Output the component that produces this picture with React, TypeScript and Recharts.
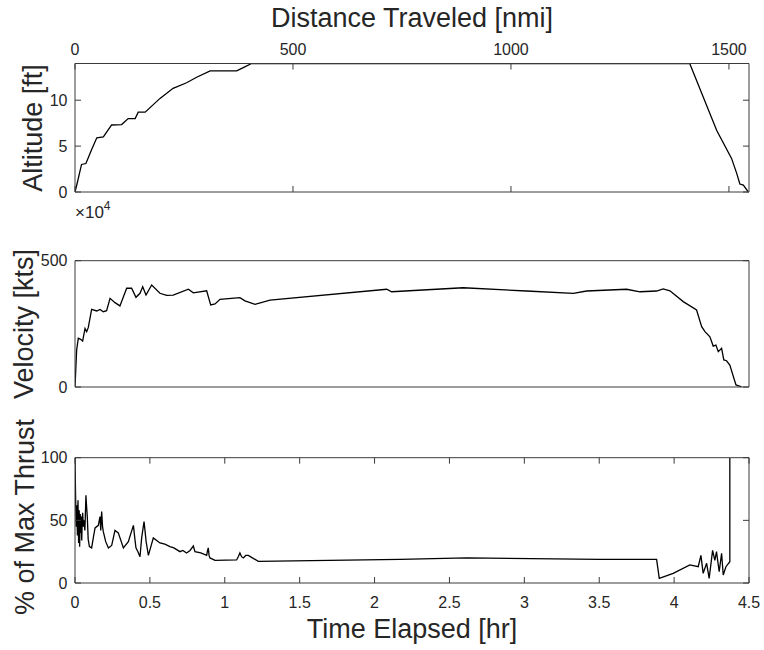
import React from 'react';
import { LineChart, Line, XAxis, YAxis } from 'recharts';

// ---------- data ----------
const distTicks = [0, 500, 1000, 1500];
const altTicks = [0, 5, 10];
const velTicks = [0, 500];
const timeTicks = [0, 0.5, 1, 1.5, 2, 2.5, 3, 3.5, 4, 4.5];
const thrustTicks = [0, 50, 100];

// Altitude (x10^4 ft) vs distance traveled (nmi)
const altDist = [0, 5, 15, 25, 38, 50, 65, 84, 107, 122, 138, 145, 161, 195, 225, 256, 279, 310, 371, 386, 405, 1410, 1472, 1506, 1518, 1525, 1533, 1544];
const altVal = [0, 0.95, 3.0, 3.1, 4.6, 5.9, 6.0, 7.3, 7.35, 8.0, 8.0, 8.7, 8.7, 10.2, 11.3, 11.9, 12.5, 13.2, 13.2, 13.55, 14, 14, 6.7, 3.66, 2.0, 0.87, 0.76, 0.03];

// Velocity (kts) vs time (hr)
const velTime = [0, 0.011, 0.022, 0.035, 0.051, 0.067, 0.078, 0.089, 0.111, 0.145, 0.167, 0.189, 0.211, 0.234, 0.267, 0.3, 0.345, 0.378, 0.407, 0.434, 0.452, 0.474, 0.512, 0.567, 0.612, 0.656, 0.757, 0.79, 0.879, 0.906, 0.935, 0.968, 1.101, 1.135, 1.202, 1.302, 2.081, 2.114, 2.592, 3.015, 3.327, 3.416, 3.683, 3.772, 3.883, 3.927, 3.972, 4.061, 4.15, 4.184, 4.206, 4.239, 4.261, 4.279, 4.295, 4.317, 4.332, 4.35, 4.372, 4.413, 4.45];
const velKts = [0, 146, 193, 190, 182, 232, 219, 236, 307, 301, 307, 298, 302, 351, 334, 321, 391, 391, 355, 371, 397, 364, 404, 371, 363, 364, 387, 373, 381, 325, 329, 347, 354, 341, 327, 344, 387, 377, 393, 380, 371, 380, 387, 377, 380, 388, 381, 338, 305, 239, 219, 199, 162, 166, 140, 153, 107, 104, 87, 8, 1];

// % of max thrust vs time (hr)
const thrustTime = [0, 0.004, 0.008, 0.012, 0.016, 0.02, 0.024, 0.028, 0.031, 0.035, 0.038, 0.042, 0.045, 0.048, 0.051, 0.056, 0.06, 0.066, 0.073, 0.078, 0.082, 0.088, 0.096, 0.111, 0.125, 0.134, 0.145, 0.156, 0.162, 0.167, 0.172, 0.178, 0.184, 0.189, 0.205, 0.223, 0.245, 0.267, 0.289, 0.323, 0.356, 0.39, 0.4, 0.407, 0.42, 0.434, 0.445, 0.461, 0.475, 0.49, 0.523, 0.567, 0.6, 0.634, 0.66, 0.701, 0.72, 0.745, 0.768, 0.79, 0.801, 0.84, 0.879, 0.885, 0.89, 0.895, 0.901, 0.935, 1.079, 1.09, 1.101, 1.112, 1.124, 1.14, 1.157, 1.179, 1.224, 2.17, 2.615, 3.505, 3.883, 3.901, 3.994, 4.105, 4.161, 4.179, 4.194, 4.217, 4.234, 4.257, 4.272, 4.283, 4.301, 4.317, 4.328, 4.346, 4.372, 4.372];
const thrustPct = [100, 69, 45, 62, 38, 66, 32, 58, 29, 55, 40, 53, 34, 48, 56, 45, 50, 42, 70, 60, 53, 35, 29, 28, 38, 44, 45, 46, 50, 53, 42, 57, 45, 41, 33, 28, 30, 42, 40, 28, 33, 46, 35, 28, 25, 21, 36, 49, 33, 22, 36, 32, 31, 29, 28, 25, 26, 24, 26, 29.5, 25, 24, 22, 26, 28, 22, 20, 18, 18.4, 21, 24, 21, 20, 22, 22, 20.5, 17.3, 18.9, 20, 18.9, 18.9, 3.7, 7.7, 14.4, 13, 22, 7.7, 15.7, 3.7, 26, 18, 25, 9, 23.7, 6.4, 13, 17, 100];

const altData = altDist.map((d, i) => ({ d, v: altVal[i] }));
const velData = velTime.map((t, i) => ({ t, v: velKts[i] }));
const thrustData = thrustTime.map((t, i) => ({ t, v: thrustPct[i] }));

// ---------- styles ----------
const FONT = '"Liberation Sans", Arial, Helvetica, sans-serif';
const FRAME = '#3a3a3a';
const TXT = '#262626';
const tickStyle = { fontSize: 16, fill: TXT, fontFamily: FONT };
const noLabel = () => '';
const W = 764;
// axis band sizes (subtracted from margins so the plot box lands at x 75..749)
const AX = 10;

function AltitudeChart() {
  return (
    <LineChart width={W} height={230} data={altData} margin={{ top: 63.5 - AX, right: 15 - AX, bottom: 38 - AX, left: 75 - AX }}>
      <XAxis xAxisId="b" dataKey="d" type="number" domain={[0, 1546]} ticks={distTicks} orientation="bottom" height={AX}
        interval={0} tickSize={-6} tickFormatter={noLabel} stroke={FRAME} allowDataOverflow />
      <XAxis xAxisId="t" dataKey="d" type="number" domain={[0, 1546]} ticks={distTicks} orientation="top" height={AX}
        interval={0} tickSize={-6} tickMargin={14.5} tick={tickStyle} stroke={FRAME} allowDataOverflow />
      <YAxis yAxisId="l" type="number" domain={[0, 14]} ticks={altTicks} orientation="left" width={AX}
        interval={0} tickSize={-6} tickMargin={13.5} tick={tickStyle} stroke={FRAME} allowDataOverflow />
      <YAxis yAxisId="r" type="number" domain={[0, 14]} ticks={altTicks} orientation="right" width={AX}
        interval={0} tickSize={-6} tickFormatter={noLabel} stroke={FRAME} allowDataOverflow />
      <Line xAxisId="b" yAxisId="l" dataKey="v" type="linear" stroke="#000" strokeWidth={1.3} dot={false} isAnimationActive={false} />
    </LineChart>
  );
}

function VelocityChart() {
  return (
    <LineChart width={W} height={190} data={velData} margin={{ top: 30.7 - AX, right: 15 - AX, bottom: 33 - AX, left: 75 - AX }}>
      <XAxis xAxisId="b" dataKey="t" type="number" domain={[0, 4.5]} ticks={[]} orientation="bottom" height={AX}
        tickLine={false} tickFormatter={noLabel} stroke={FRAME} allowDataOverflow />
      <XAxis xAxisId="t" dataKey="t" type="number" domain={[0, 4.5]} ticks={[]} orientation="top" height={AX}
        tickLine={false} tickFormatter={noLabel} stroke={FRAME} allowDataOverflow />
      <YAxis yAxisId="l" type="number" domain={[0, 500]} ticks={velTicks} orientation="left" width={AX}
        interval={0} tickSize={-6} tickMargin={13.5} tick={tickStyle} stroke={FRAME} allowDataOverflow />
      <YAxis yAxisId="r" type="number" domain={[0, 500]} ticks={velTicks} orientation="right" width={AX}
        interval={0} tickSize={-6} tickFormatter={noLabel} stroke={FRAME} allowDataOverflow />
      <Line xAxisId="b" yAxisId="l" dataKey="v" type="linear" stroke="#000" strokeWidth={1.3} dot={false} isAnimationActive={false} />
    </LineChart>
  );
}

function ThrustChart() {
  return (
    <LineChart width={W} height={230} data={thrustData} margin={{ top: 37.7 - AX, right: 15 - AX, bottom: 67 - AX, left: 75 - AX }}>
      <XAxis xAxisId="b" dataKey="t" type="number" domain={[0, 4.5]} ticks={timeTicks} orientation="bottom" height={AX}
        interval={0} tickSize={-6} tickMargin={20} tick={tickStyle} stroke={FRAME} allowDataOverflow />
      <XAxis xAxisId="t" dataKey="t" type="number" domain={[0, 4.5]} ticks={timeTicks} orientation="top" height={AX}
        interval={0} tickSize={-6} tickFormatter={noLabel} stroke={FRAME} allowDataOverflow />
      <YAxis yAxisId="l" type="number" domain={[0, 100]} ticks={thrustTicks} orientation="left" width={AX}
        interval={0} tickSize={-6} tickMargin={13.5} tick={tickStyle} stroke={FRAME} allowDataOverflow />
      <YAxis yAxisId="r" type="number" domain={[0, 100]} ticks={thrustTicks} orientation="right" width={AX}
        interval={0} tickSize={-6} tickFormatter={noLabel} stroke={FRAME} allowDataOverflow />
      <Line xAxisId="b" yAxisId="l" dataKey="v" type="linear" stroke="#000" strokeWidth={1.3} dot={false} isAnimationActive={false} />
    </LineChart>
  );
}

export default function App() {
  const titleStyle = { fontSize: 27, fill: TXT, fontFamily: FONT };
  return (
    <div style={{ position: 'absolute', left: 0, top: 0, width: W, height: 650, background: '#fff', overflow: 'hidden' }}>
      <div style={{ position: 'absolute', left: 0, top: 0 }}><AltitudeChart /></div>
      <div style={{ position: 'absolute', left: 0, top: 230 }}><VelocityChart /></div>
      <div style={{ position: 'absolute', left: 0, top: 420 }}><ThrustChart /></div>
      <svg width={W} height={650} style={{ position: 'absolute', left: 0, top: 0, pointerEvents: 'none' }}>
        <text x={412} y={27} textAnchor="middle" {...titleStyle}>Distance Traveled [nmi]</text>
        <text x={412} y={638} textAnchor="middle" {...titleStyle}>Time Elapsed [hr]</text>
        <text x={42} y={128} textAnchor="middle" transform="rotate(-90 42 128)" {...titleStyle}>Altitude [ft]</text>
        <text x={33} y={324} textAnchor="middle" transform="rotate(-90 33 324)" {...titleStyle}>Velocity [kts]</text>
        <text x={34} y={517} textAnchor="middle" transform="rotate(-90 34 517)" {...titleStyle}>% of Max Thrust</text>
        <text x={75} y={218} fontSize={17} fill={TXT} fontFamily={FONT}>
          ×10<tspan fontSize={12} dy={-8}>4</tspan>
        </text>
      </svg>
    </div>
  );
}
